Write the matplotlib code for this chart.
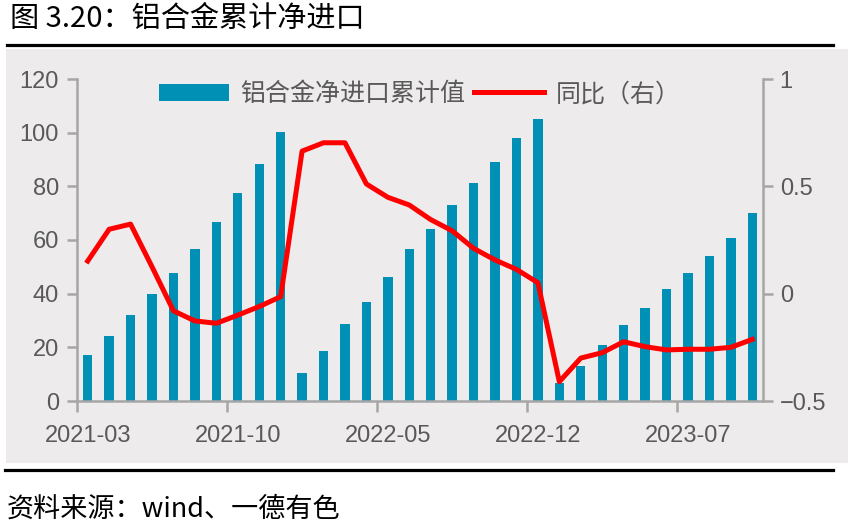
import matplotlib
matplotlib.use("Agg")
import matplotlib.pyplot as plt
from matplotlib.patches import Rectangle
from matplotlib.lines import Line2D

# monthly data 2021-03 .. 2023-10
months = ["2021-03", "2021-04", "2021-05", "2021-06", "2021-07", "2021-08", "2021-09",
          "2021-10", "2021-11", "2021-12", "2022-01", "2022-02", "2022-03", "2022-04",
          "2022-05", "2022-06", "2022-07", "2022-08", "2022-09", "2022-10", "2022-11",
          "2022-12", "2023-01", "2023-02", "2023-03", "2023-04", "2023-05", "2023-06",
          "2023-07", "2023-08", "2023-09", "2023-10"]
net_import_cum = [17, 24.3, 32, 40, 47.8, 56.6, 66.8, 77.5, 88.3, 100.3,
                  10.4, 18.6, 28.7, 36.9, 46.3, 56.7, 64.1, 73, 81.2, 89, 98, 105,
                  6.6, 13, 20.9, 28.4, 34.8, 41.8, 47.8, 54, 60.8, 70]
yoy = [0.152, 0.30, 0.324, 0.125, -0.08, -0.127, -0.138, -0.10, -0.06, -0.014,
       0.664, 0.703, 0.703, 0.511, 0.449, 0.413, 0.345, 0.293, 0.211, 0.157, 0.113, 0.051,
       -0.41, -0.30, -0.275, -0.224, -0.247, -0.262, -0.259, -0.259, -0.25, -0.213]
label_every = 7

CJK = ['Noto Sans CJK SC', 'DejaVu Sans']
NUM = ['Liberation Sans', 'DejaVu Sans']
BAR_COLOR = '#008FB5'
BG = '#EDEBEB'
SPINE = '#A6A6A6'
TXT = '#595959'

W, H = 852, 532
fig = plt.figure(figsize=(W / 100, H / 100), dpi=100)

# grey panel and black rules
fig.add_artist(Rectangle((6 / W, 1 - 463 / H), 842 / W, 414 / H,
                         transform=fig.transFigure, facecolor=BG, edgecolor='none', zorder=0))
fig.add_artist(Line2D([7 / W, 833 / W], [1 - 44.5 / H] * 2, transform=fig.transFigure,
                      color='black', linewidth=2.3))
fig.add_artist(Line2D([5 / W, 833 / W], [1 - 469.5 / H] * 2, transform=fig.transFigure,
                      color='black', linewidth=2.3))

fig.text(10 / W, 1 - 19 / H, "图 3.20：铝合金累计净进口", family=CJK, fontsize=21,
         va='center', ha='left', color='black')
fig.text(7 / W, 1 - 509 / H, "资料来源：wind、一德有色", family=CJK, fontsize=19.5,
         va='center', ha='left', color='black')

ax = fig.add_axes([77 / W, 1 - 401 / H, (763 - 77) / W, (401 - 79) / H])
ax.patch.set_alpha(0)
x = list(range(len(months)))
bars = ax.bar(x, net_import_cum, width=0.44, color=BAR_COLOR, zorder=2)
ax.set_xlim(-0.5, len(months) - 0.5)
ax.set_ylim(0, 120)
ax.set_yticks(range(0, 121, 20))

ax2 = ax.twinx()
ax2.patch.set_alpha(0)
line, = ax2.plot(x, yoy, color='#FF0000', linewidth=3.6, solid_joinstyle='round', zorder=3)
ax2.set_ylim(-0.5, 1)
ax2.set_yticks([-0.5, 0, 0.5, 1])
ax2.set_yticklabels(['−0.5', '0', '0.5', '1'])

# tick marks between categories, labels centred on bars
ax.set_xticks([i - 0.5 for i in x[::label_every]])
ax.set_xticklabels([])
ax.set_xticks(x[::label_every], minor=True)
ax.set_xticklabels(months[::label_every], minor=True)
ax.tick_params(axis='x', which='major', length=8, width=1.8, color=SPINE, direction='out')
ax.tick_params(axis='x', which='minor', length=0, pad=17, labelsize=17, labelcolor=TXT)
ax.tick_params(axis='y', length=7, width=1.8, color=SPINE, pad=6, labelsize=17, labelcolor=TXT)
ax2.tick_params(axis='y', length=7, width=1.8, color=SPINE, pad=5, labelsize=17, labelcolor=TXT)

for a in (ax, ax2):
    for s in a.spines.values():
        s.set_color(SPINE)
        s.set_linewidth(1.8)
    a.spines['top'].set_visible(False)
    for lab in a.get_xticklabels(minor=True) + a.get_yticklabels():
        lab.set_family(NUM)
ax.spines['right'].set_visible(False)
ax2.spines['left'].set_visible(False)
ax2.spines['bottom'].set_visible(False)

leg = ax2.legend([bars, line], ["铝合金净进口累计值", "同比（右）"], loc='center',
                 bbox_to_anchor=(0.5, 0.953), ncol=2, frameon=False,
                 prop={'family': CJK, 'size': 18}, handlelength=2.8,
                 handletextpad=0.45, columnspacing=0.35, borderaxespad=0)
for t in leg.get_texts():
    t.set_color(TXT)

fig.savefig("out.png", dpi=100)
